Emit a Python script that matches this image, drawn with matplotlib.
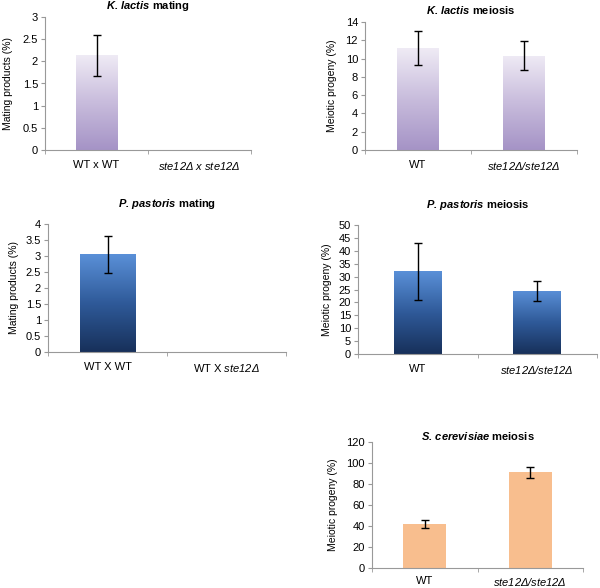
import numpy as np
import matplotlib
matplotlib.use("Agg")
import matplotlib.pyplot as plt
from matplotlib.colors import LinearSegmentedColormap

plt.rcParams['font.family'] = ['Liberation Sans', 'DejaVu Sans']
plt.rcParams['mathtext.fontset'] = 'custom'
plt.rcParams['mathtext.rm'] = 'Liberation Sans'
plt.rcParams['mathtext.it'] = 'Liberation Sans:italic'
plt.rcParams['mathtext.sf'] = 'Liberation Sans:italic'
plt.rcParams['mathtext.bf'] = 'Liberation Sans:bold'
plt.rcParams['mathtext.tt'] = 'Liberation Sans:italic:bold'
plt.rcParams['mathtext.bfit'] = 'Liberation Sans:italic:bold'

# ---- data ----
kl_mating_labels = ["WT x WT", r"$\mathsf{ste12Δ\ x\ ste12Δ}$"]
kl_mating_vals = [2.14, 0.0]
kl_mating_err = [0.46, 0.0]

kl_meiosis_labels = ["WT", r"$\mathsf{ste12Δ/ste12Δ}$"]
kl_meiosis_vals = [11.15, 10.3]
kl_meiosis_err = [1.85, 1.6]

pp_mating_labels = ["WT X WT", r"WT X $\mathsf{ste12Δ}$"]
pp_mating_vals = [3.05, 0.0]
pp_mating_err = [0.57, 0.0]

pp_meiosis_labels = ["WT", r"$\mathsf{ste12Δ/ste12Δ}$"]
pp_meiosis_vals = [32.0, 24.5]
pp_meiosis_err = [11.0, 3.8]

sc_meiosis_labels = ["WT", r"$\mathsf{ste12Δ/ste12Δ}$"]
sc_meiosis_vals = [41.5, 91.0]
sc_meiosis_err = [3.8, 5.0]

W, H = 600, 588
fig = plt.figure(figsize=(W / 100, H / 100), dpi=100)

purple = LinearSegmentedColormap.from_list("pur", ["#a593c6", "#c8bcdc", "#efebf5"])
blue = LinearSegmentedColormap.from_list("blu", ["#17305a", "#2f5a99", "#5a90d8"])


def make_ax(l, r, t, b):
    return fig.add_axes([l / W, (H - b) / H, (r - l) / W, (b - t) / H])


def panel(rect, title, labels, vals, errs, ymax, ystep, ylabel, width,
          cmap=None, color=None, title_pad=6, xpad=7, ylpad=6):
    ax = make_ax(*rect)
    x = np.arange(len(vals))
    bars = ax.bar(x, vals, width=width, color=color if color else "none",
                  edgecolor="none", zorder=2)
    ax.set_xlim(-0.5, len(vals) - 0.5)
    ax.set_ylim(0, ymax)
    if cmap is not None:
        grad = np.linspace(0, 1, 256).reshape(-1, 1)
        for bar in bars:
            if bar.get_height() <= 0:
                continue
            x0 = bar.get_x()
            im = ax.imshow(grad, cmap=cmap, origin="lower", aspect="auto",
                           extent=[x0, x0 + bar.get_width(), 0, bar.get_height()],
                           zorder=2)
            im.set_clip_path(bar)
        ax.set_xlim(-0.5, len(vals) - 0.5)
        ax.set_ylim(0, ymax)
    for xi, v, e in zip(x, vals, errs):
        if e > 0:
            ax.errorbar(xi, v, yerr=e, color="black", capsize=3, elinewidth=1,
                        capthick=1, zorder=3)
    ticks = np.arange(0, ymax + ystep / 2, ystep)
    ax.set_yticks(ticks)
    ax.set_yticklabels(["%g" % t for t in ticks])
    ax.set_xticks(x)
    ax.set_xticklabels(labels, fontsize=8)
    ax.tick_params(axis="x", length=0, pad=xpad)
    ax.set_xticks(np.arange(-0.5, len(vals)), minor=True)
    ax.tick_params(axis="x", which="minor", length=3, color="#999999")
    ax.tick_params(axis="y", length=3, color="#999999", labelsize=8, pad=2)
    for s in ["top", "right"]:
        ax.spines[s].set_visible(False)
    for s in ["left", "bottom"]:
        ax.spines[s].set_color("#999999")
        ax.spines[s].set_linewidth(0.8)
    ax.set_ylabel(ylabel, fontsize=7.5, labelpad=ylpad)
    ax.set_title(title, fontsize=8, fontweight="bold", pad=title_pad)
    return ax


panel((45, 251, 17, 150), r"$\mathtt{K.\,lactis}$ mating", kl_mating_labels,
      kl_mating_vals, kl_mating_err, 3, 0.5, "Mating products (%)", 0.4,
      cmap=purple, ylpad=7)
panel((365, 577, 22, 150), r"$\mathtt{K.\,lactis}$ meiosis", kl_meiosis_labels,
      kl_meiosis_vals, kl_meiosis_err, 14, 2, "Meiotic progeny (%)", 0.39,
      cmap=purple)
panel((48, 286, 224, 352), r"$\mathtt{P.\,pastoris}$ mating", pp_mating_labels,
      pp_mating_vals, pp_mating_err, 4, 0.5, "Mating products (%)", 0.47,
      cmap=blue, title_pad=12, ylpad=5)
panel((358, 597, 225, 354), r"$\mathtt{P.\,pastoris}$ meiosis", pp_meiosis_labels,
      pp_meiosis_vals, pp_meiosis_err, 50, 5, "Meiotic progeny (%)", 0.4,
      cmap=blue, title_pad=12, ylpad=5)
panel((372, 583, 442, 568), r"$\mathtt{S.\,cerevisiae}$ meiosis", sc_meiosis_labels,
      sc_meiosis_vals, sc_meiosis_err, 120, 20, "Meiotic progeny (%)", 0.41,
      color="#f8be8e", title_pad=1, xpad=5.5, ylpad=6)

fig.savefig("out.png", dpi=100)
